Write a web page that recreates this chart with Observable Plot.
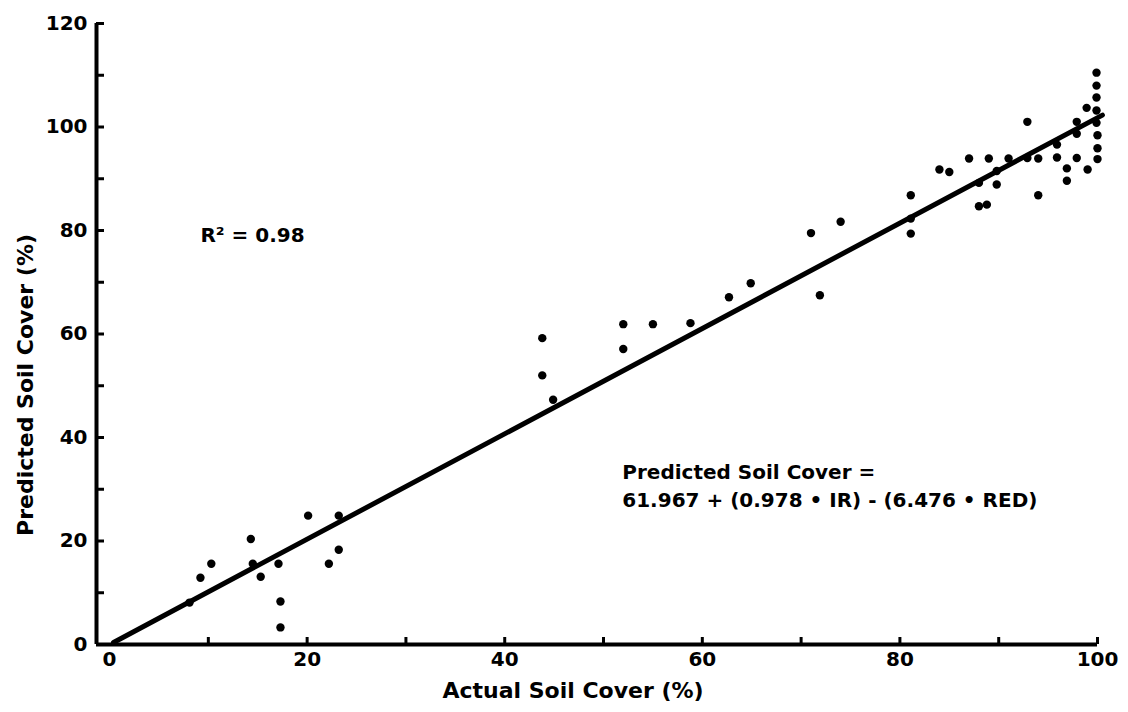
<!DOCTYPE html>
<html>
<head>
<meta charset="utf-8">
<script src="https://cdn.jsdelivr.net/npm/d3@7"></script>
<script src="https://cdn.jsdelivr.net/npm/@observablehq/plot@0.6"></script>
<style>
  html, body { margin: 0; padding: 0; background: #fff; }
</style>
</head>
<body>
<div id="chart"></div>
<script>
// ---- data ----
const actualCover = [
  99.9, 99.9, 99.9, 99.9, 99.9, 100.0, 100.0, 100.0, 98.9, 97.9,
  97.9, 97.9, 99.0, 96.9, 96.9, 95.9, 95.9, 92.9, 92.9, 94.0,
  94.0, 91.0, 89.8, 89.8, 88.0, 87.0, 89.0, 88.0, 88.8, 84.0,
  85.0, 81.1, 81.1, 81.1, 74.0, 71.0, 71.9,
  43.8, 43.8, 44.9, 52.0, 52.0, 55.0, 58.8, 62.7, 64.9,
  8.1, 9.2, 10.3, 14.3, 14.5, 15.3, 17.1, 17.3, 17.3, 20.1, 22.2, 23.2, 23.2
];
const predictedCover = [
  110.5, 108.0, 105.7, 103.2, 100.8, 98.4, 95.9, 93.8, 103.7, 101.0,
  98.7, 94.0, 91.8, 92.0, 89.6, 96.6, 94.1, 101.0, 94.0, 93.9,
  86.8, 93.9, 91.5, 88.9, 89.2, 93.9, 93.9, 84.7, 85.0, 91.8,
  91.3, 86.8, 82.3, 79.4, 81.7, 79.5, 67.5,
  59.2, 52.0, 47.3, 61.9, 57.1, 61.9, 62.1, 67.1, 69.8,
  8.1, 12.9, 15.6, 20.4, 15.6, 13.1, 15.6, 8.3, 3.3, 24.9, 15.6, 18.3, 24.9
];
const fitActual = [0.4, 100.5];
const fitPredicted = [0.4, 102.3];

const xTickLabels = [0, 20, 40, 60, 80, 100];
const yTickLabels = [0, 20, 40, 60, 80, 100, 120];
const xTickMarks = [10, 20, 30, 40, 50, 60, 70, 80, 90, 100];
const yTickMarks = [10, 20, 30, 40, 50, 60, 70, 80, 90, 100, 110, 120];
const xDomain = [-1.32, 100];
const yDomain = [0, 120];

const xTitle = "Actual Soil Cover (%)";
const yTitle = "Predicted Soil Cover (%)";
const noteTexts = ["R\u00B2 = 0.98", "Predicted Soil Cover =", "61.967 + (0.978 \u2022 IR) - (6.476 \u2022 RED)"];
const noteActual = [9.2, 51.9, 51.9];
const notePredicted = [79.0, 33.2, 27.8];

// ---- build ----
const points = actualCover.map((a, i) => ({actual: a, predicted: predictedCover[i]}));
const fitLine = fitActual.map((a, i) => ({actual: a, predicted: fitPredicted[i]}));
const notes = noteTexts.map((t, i) => ({text: t, actual: noteActual[i], predicted: notePredicted[i]}));

const W = 1128, H = 712;
const mL = 96, mR = 31, mT = 23, mB = 68;
const innerW = W - mL - mR, innerH = H - mT - mB;

const chart = Plot.plot({
  width: W,
  height: H,
  marginLeft: mL,
  marginRight: mR,
  marginTop: mT,
  marginBottom: mB,
  style: {fontFamily: "'DejaVu Sans', sans-serif", fontWeight: "bold", fontSize: "20px", background: "#fff", color: "#000"},
  x: {domain: xDomain, label: null},
  y: {domain: yDomain, label: null},
  marks: [
    Plot.axisX({ticks: xTickLabels, tickSize: 0, tickPadding: 7, label: null, fontSize: 20, fontWeight: "bold"}),
    Plot.axisY({ticks: yTickLabels, tickSize: 0, tickPadding: 9, label: null, fontSize: 20, fontWeight: "bold"}),
    Plot.tickX(xTickMarks, {x: d => d, stroke: "#000", strokeWidth: 3, insetTop: innerH - 7}),
    Plot.tickY(yTickMarks, {y: d => d, stroke: "#000", strokeWidth: 3, insetRight: innerW - 8}),
    Plot.ruleY([yDomain[0]], {stroke: "#000", strokeWidth: 4}),
    Plot.ruleX([xDomain[0]], {stroke: "#000", strokeWidth: 4}),
    Plot.line(fitLine, {x: "actual", y: "predicted", stroke: "#000", strokeWidth: 5}),
    Plot.dot(points, {x: "actual", y: "predicted", r: 4.2, fill: "#000", stroke: "none"}),
    Plot.text(notes, {x: "actual", y: "predicted", text: "text", textAnchor: "start", fontSize: 20, fontWeight: "bold", fill: "#000"}),
    Plot.text([xTitle], {frameAnchor: "bottom", textAnchor: "middle", lineAnchor: "middle", dx: -24, dy: 46, fontSize: 22, fontWeight: "bold", fill: "#000"}),
    Plot.text([yTitle], {frameAnchor: "left", textAnchor: "middle", lineAnchor: "middle", rotate: -90, dx: -71, dy: 51, fontSize: 22, fontWeight: "bold", fill: "#000"})
  ]
});
document.getElementById("chart").appendChild(chart);
</script>
</body>
</html>
